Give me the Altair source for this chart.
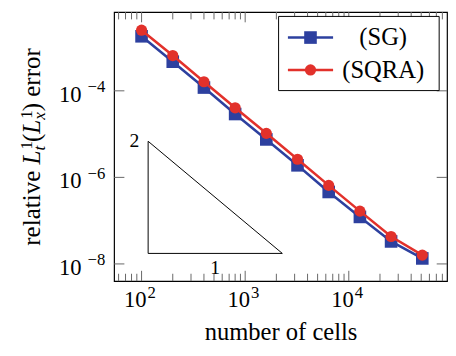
import altair as alt
import pandas as pd

# ---- data ----
cells = [100, 200, 400, 800, 1600, 3200, 6400, 12800, 25600, 51200]
err_sg = [1.82e-3, 4.71e-4, 1.19e-4, 2.91e-5, 7.53e-6, 1.90e-6, 4.60e-7, 1.22e-7, 3.31e-8, 1.34e-8]
err_sqra = [2.52e-3, 6.52e-4, 1.62e-4, 4.05e-5, 1.04e-5, 2.62e-6, 6.53e-7, 1.66e-7, 4.30e-8, 1.60e-8]
series_labels = ["(SG)", "(SQRA)"]

x_tick_values = [100, 1000, 10000]
x_tick_base = ["10", "10", "10"]
x_tick_exps = ["2", "3", "4"]
x_minor_ticks = [60, 70, 80, 90,
                 200, 300, 400, 500, 600, 700, 800, 900,
                 2000, 3000, 4000, 5000, 6000, 7000, 8000, 9000,
                 20000, 30000, 40000, 50000, 60000, 70000, 80000]
y_tick_values = [1e-4, 1e-6, 1e-8]
y_tick_base = ["10", "10", "10"]
y_tick_exps = ["−4", "−6", "−8"]

x_title = "number of cells"
# y title "relative L^1_t(L^1_x) error", split into typeset pieces
y_title_pieces = ["relative", "L", "1", "t", "(", "L", "1", "x", ")", "error"]

tri_x = [115.7, 115.7, 2282, 115.7]
tri_y = [6.82e-6, 1.75e-8, 1.75e-8, 6.82e-6]
tri_label_text = ["2", "1"]
tri_label_x = [115.7, 514]
tri_label_y = [6.82e-6, 1.75e-8]

x_domain = [54.28, 88716]
y_domain = [10 ** -8.397, 10 ** -2.179]

FONT = "Liberation Serif"
BLUE = "#2d409f"
RED = "#e2312b"
W, H = 339, 274

xscale = alt.Scale(type="log", domain=x_domain, nice=False)
yscale = alt.Scale(type="log", domain=y_domain, nice=False)

xaxis = alt.Axis(values=x_tick_values, labels=False, ticks=False, domain=False, grid=False,
                 title=x_title, titleFont=FONT, titleFontSize=25,
                 titleFontWeight="normal", titleColor="black",
                 titleY=51, titleBaseline="middle")

X = alt.X("x:Q", scale=xscale, axis=xaxis)
Y = alt.Y("y:Q", scale=yscale, axis=None)

df_sg = pd.DataFrame({"x": cells, "y": err_sg})
df_sqra = pd.DataFrame({"x": cells, "y": err_sqra})
df_xmaj = pd.DataFrame({"x": x_tick_values, "b": x_tick_base, "e": x_tick_exps})
df_xmin = pd.DataFrame({"x": x_minor_ticks})
df_ymaj = pd.DataFrame({"y": y_tick_values, "b": y_tick_base, "e": y_tick_exps})
df_tri = pd.DataFrame({"x": tri_x, "y": tri_y, "o": list(range(len(tri_x)))})
df_tri_lab = pd.DataFrame({"x": tri_label_x, "y": tri_label_y, "t": tri_label_text})

TICK = "#666666"
MAJ, MIN = 10.5, 7.5

ticks = [
    alt.Chart(df_xmaj).mark_rule(color=TICK, strokeWidth=1).encode(x=X, y=alt.value(H), y2=alt.value(H - MAJ)),
    alt.Chart(df_xmaj).mark_rule(color=TICK, strokeWidth=1).encode(x=X, y=alt.value(0), y2=alt.value(MAJ)),
    alt.Chart(df_xmin).mark_rule(color=TICK, strokeWidth=1).encode(x=X, y=alt.value(H), y2=alt.value(H - MIN)),
    alt.Chart(df_xmin).mark_rule(color=TICK, strokeWidth=1).encode(x=X, y=alt.value(0), y2=alt.value(MIN)),
    alt.Chart(df_ymaj).mark_rule(color=TICK, strokeWidth=1).encode(y=Y, x=alt.value(0), x2=alt.value(MAJ)),
    alt.Chart(df_ymaj).mark_rule(color=TICK, strokeWidth=1).encode(y=Y, x=alt.value(W), x2=alt.value(W - MAJ)),
]

# tick labels: base "10" plus a raised, smaller exponent
tick_labels = [
    alt.Chart(df_xmaj).mark_text(font=FONT, fontSize=23, align="right", baseline="alphabetic",
                                 dx=5, color="black").encode(x=X, y=alt.value(H + 26), text="b:N"),
    alt.Chart(df_xmaj).mark_text(font=FONT, fontSize=17, align="left", baseline="alphabetic",
                                 dx=6, color="black").encode(x=X, y=alt.value(H + 17.5), text="e:N"),
    alt.Chart(df_ymaj).mark_text(font=FONT, fontSize=23, align="right", baseline="alphabetic",
                                 dy=11, color="black").encode(y=Y, x=alt.value(-33), text="b:N"),
    alt.Chart(df_ymaj).mark_text(font=FONT, fontSize=17, align="right", baseline="alphabetic",
                                 dy=1.5, color="black").encode(y=Y, x=alt.value(-9), text="e:N"),
]

# rotated y title, piece by piece (main size, italic math letters, scripts)
TS, SS = 25.5, 17.5
BASE_X = -75
piece_style = [  # (y start, x baseline, size, italic)
    (238.0, BASE_X, TS, False),
    (155.2, BASE_X, TS, True),
    (139.9, BASE_X - 8.7, SS, False),
    (141.0, BASE_X + 5, SS, True),
    (132.4, BASE_X, TS, False),
    (123.9, BASE_X, TS, True),
    (108.6, BASE_X - 8.7, SS, False),
    (109.8, BASE_X + 5, SS, True),
    (101.1, BASE_X, TS, False),
    (86.3, BASE_X, TS, False),
]
title_df = pd.DataFrame({"t": y_title_pieces})
title_layers = []
for i, (ys, xb, fs, it) in enumerate(piece_style):
    kw = dict(font=FONT, fontSize=fs, angle=270, align="left", baseline="alphabetic", color="black")
    if it:
        kw["fontStyle"] = "italic"
    title_layers.append(alt.Chart(title_df.iloc[[i]]).mark_text(**kw).encode(
        x=alt.value(xb), y=alt.value(ys), text="t:N"))

triangle = alt.Chart(df_tri).mark_line(color="black", strokeWidth=1).encode(x=X, y=Y, order="o:Q")
tri_lab2 = alt.Chart(df_tri_lab.iloc[[0]]).mark_text(font=FONT, fontSize=20, align="right",
                                                     baseline="middle", dx=-9, color="black").encode(x=X, y=Y, text="t:N")
tri_lab1 = alt.Chart(df_tri_lab.iloc[[1]]).mark_text(font=FONT, fontSize=20, align="center",
                                                     baseline="middle", dy=15, color="black").encode(x=X, y=Y, text="t:N")

sg_line = alt.Chart(df_sg).mark_line(color=BLUE, strokeWidth=2.6).encode(x=X, y=Y)
sg_pts = alt.Chart(df_sg).mark_point(shape="square", size=165, filled=True, color=BLUE, opacity=1).encode(x=X, y=Y)
sq_line = alt.Chart(df_sqra).mark_line(color=RED, strokeWidth=2.6).encode(x=X, y=Y)
sq_pts = alt.Chart(df_sqra).mark_point(shape="circle", size=130, filled=True, color=RED, opacity=1).encode(x=X, y=Y)

# ---- legend drawn by hand ----
leg_df = pd.DataFrame({"label": series_labels})
leg_box = alt.Chart(leg_df.iloc[[0]]).mark_rect(fill="white", stroke="black", strokeWidth=1).encode(
    x=alt.value(167.5), x2=alt.value(331), y=alt.value(4.5), y2=alt.value(80))
legend_layers = [leg_box]
for i, (col, shape, size, ypos) in enumerate([(BLUE, "square", 165, 26), (RED, "circle", 130, 59)]):
    d = leg_df.iloc[[i]]
    legend_layers.append(alt.Chart(d).mark_rule(color=col, strokeWidth=2.6).encode(
        x=alt.value(177), x2=alt.value(223), y=alt.value(ypos)))
    legend_layers.append(alt.Chart(d).mark_point(shape=shape, size=size, filled=True, color=col, opacity=1).encode(
        x=alt.value(200), y=alt.value(ypos)))
    legend_layers.append(alt.Chart(d).mark_text(font=FONT, fontSize=25, align="center", baseline="middle",
                                                color="black").encode(
        x=alt.value(274), y=alt.value(ypos), text="label:N"))

chart = alt.layer(
    sg_line, *ticks, *tick_labels, *title_layers, triangle, tri_lab2, tri_lab1,
    sg_pts, sq_line, sq_pts, *legend_layers
).properties(
    width=W, height=H,
    autosize=alt.AutoSizeParams(type="none"),
    padding={"left": 108, "top": 1, "right": 1, "bottom": 64},
).configure_view(stroke="black", strokeWidth=1.2)

chart.save("out.html", embed_options={"renderer": "svg", "actions": False})
